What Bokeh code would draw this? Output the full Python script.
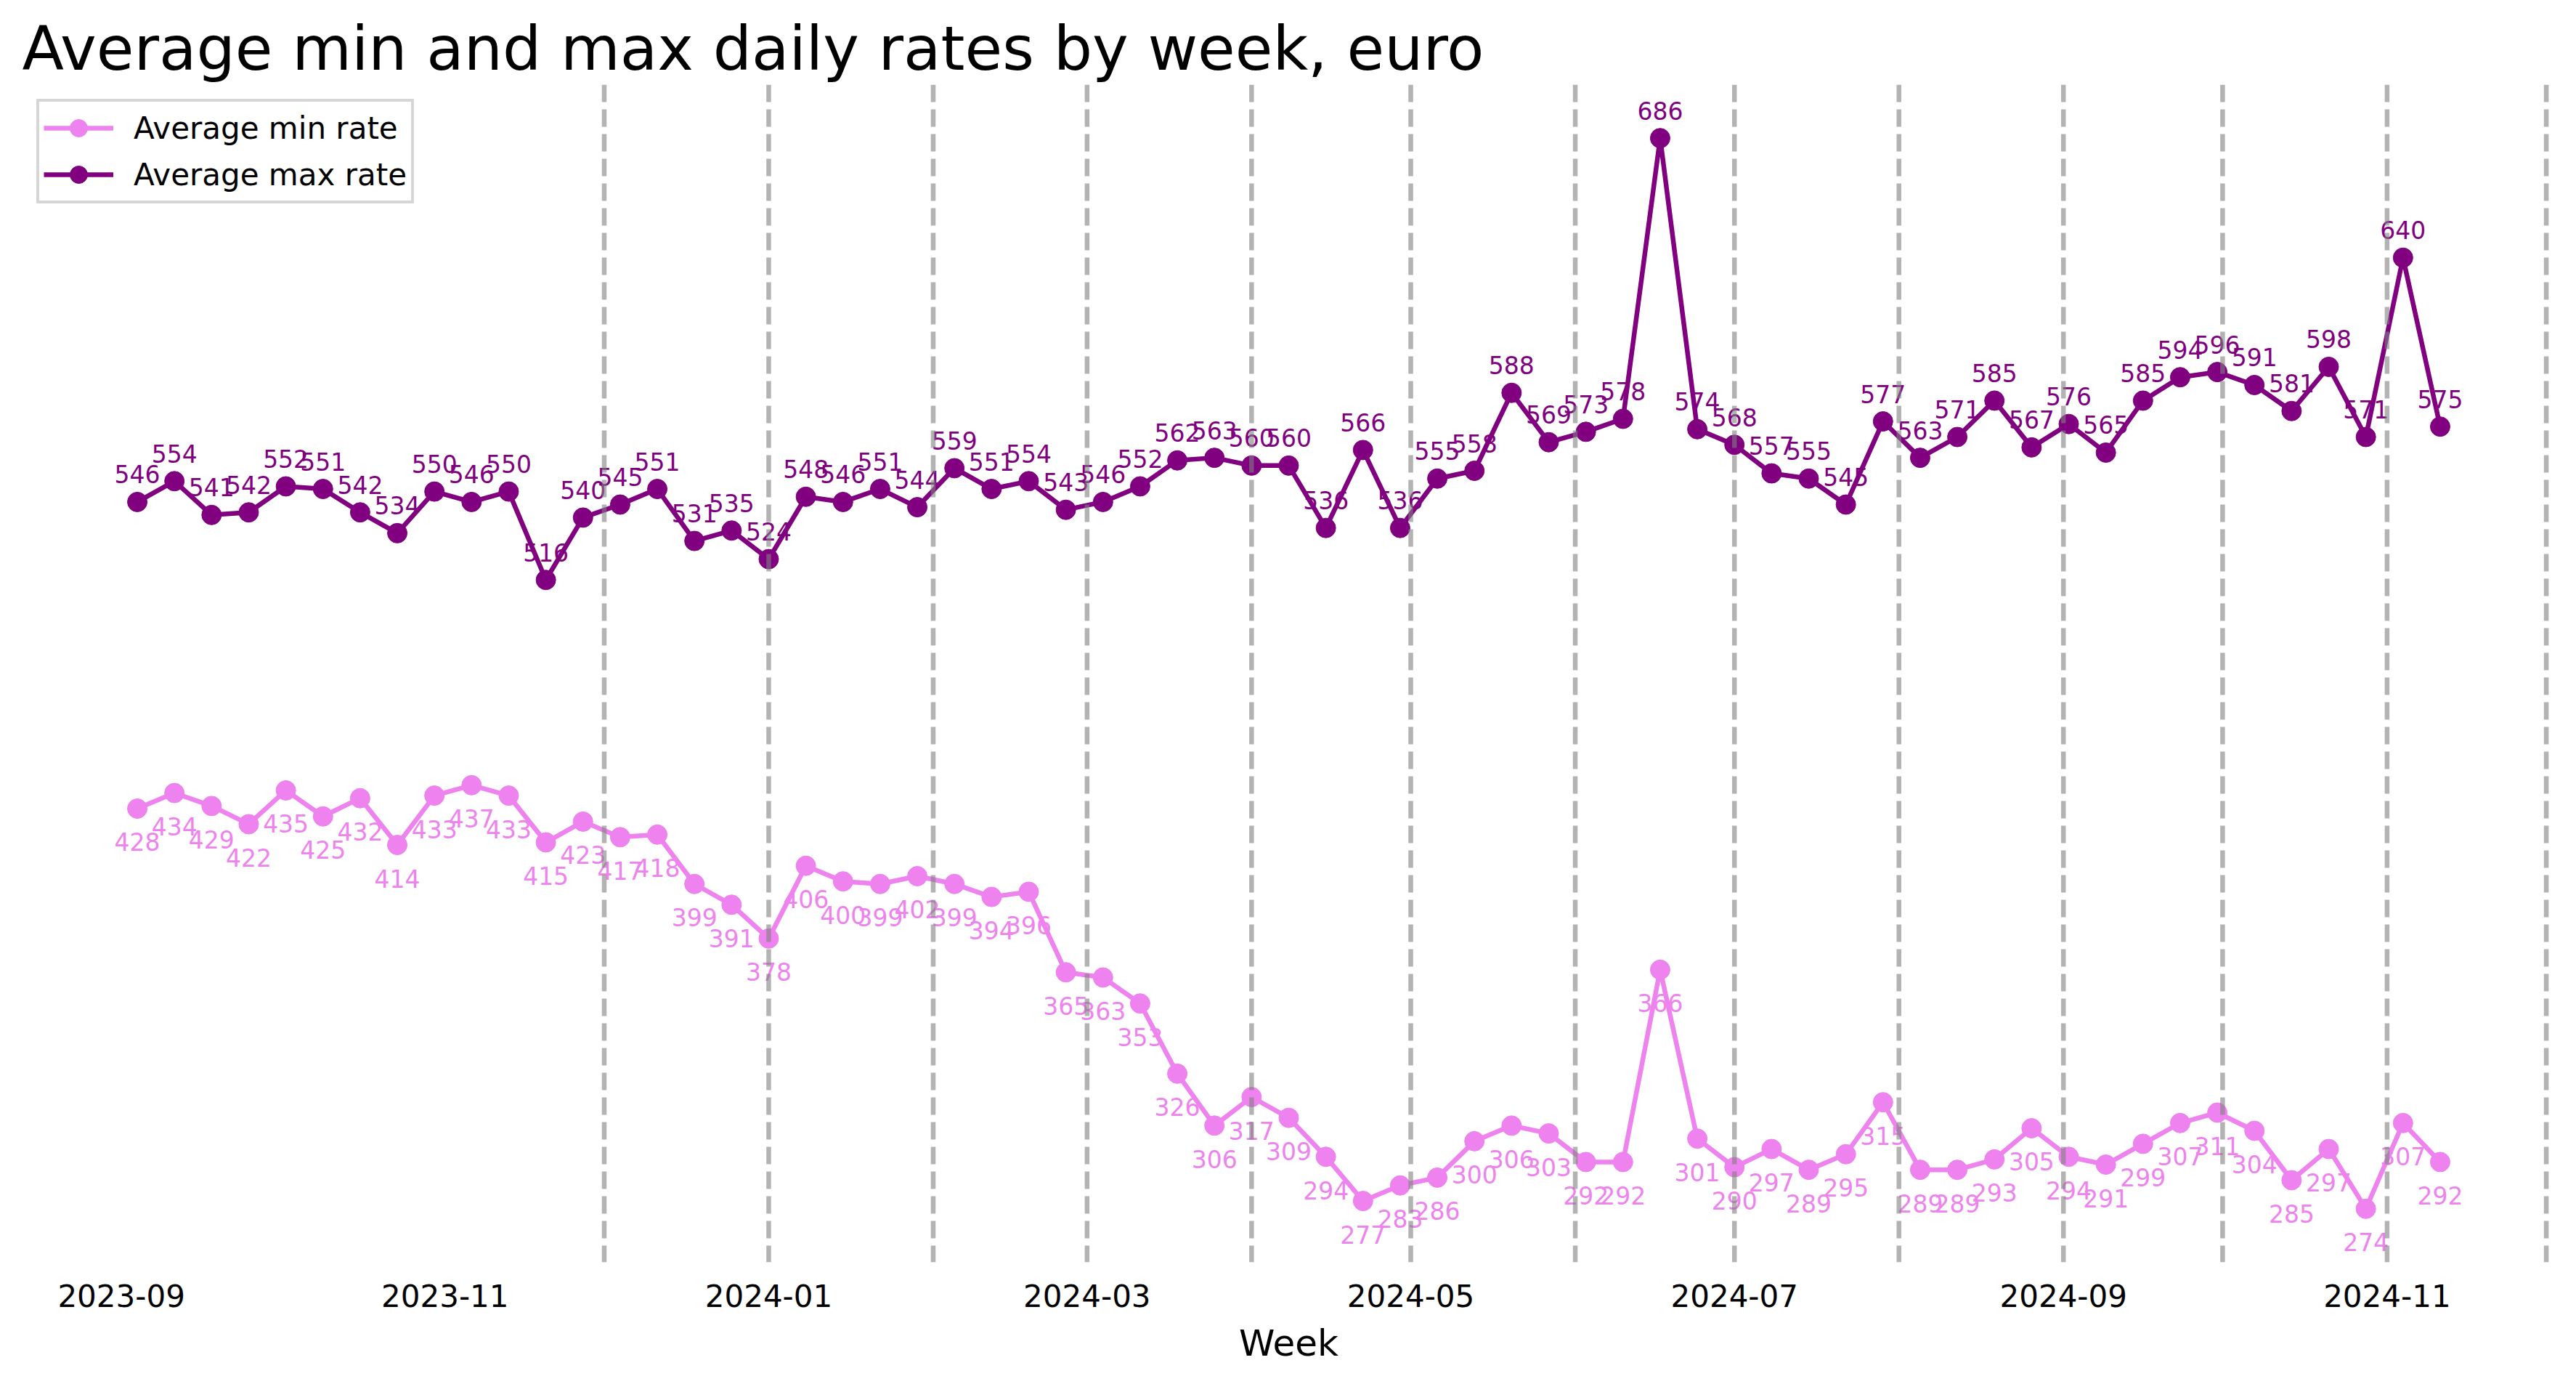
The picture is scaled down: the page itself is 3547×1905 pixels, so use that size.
import pandas as pd
from datetime import timedelta
from bokeh.plotting import figure
from bokeh.models import (Range1d, FixedTicker, Span, Legend, LegendItem,
                          ColumnDataSource)
from bokeh.core.properties import value
from bokeh.embed import file_html
from bokeh.resources import INLINE

# ---------------- data ----------------
weeks = [
    "2023-09-04", "2023-09-11", "2023-09-18", "2023-09-25", "2023-10-02", "2023-10-09",
    "2023-10-16", "2023-10-23", "2023-10-30", "2023-11-06", "2023-11-13", "2023-11-20",
    "2023-11-27", "2023-12-04", "2023-12-11", "2023-12-18", "2023-12-25", "2024-01-01",
    "2024-01-08", "2024-01-15", "2024-01-22", "2024-01-29", "2024-02-05", "2024-02-12",
    "2024-02-19", "2024-02-26", "2024-03-04", "2024-03-11", "2024-03-18", "2024-03-25",
    "2024-04-01", "2024-04-08", "2024-04-15", "2024-04-22", "2024-04-29", "2024-05-06",
    "2024-05-13", "2024-05-20", "2024-05-27", "2024-06-03", "2024-06-10", "2024-06-17",
    "2024-06-24", "2024-07-01", "2024-07-08", "2024-07-15", "2024-07-22", "2024-07-29",
    "2024-08-05", "2024-08-12", "2024-08-19", "2024-08-26", "2024-09-02", "2024-09-09",
    "2024-09-16", "2024-09-23", "2024-09-30", "2024-10-07", "2024-10-14", "2024-10-21",
    "2024-10-28", "2024-11-04", "2024-11-11",
]
min_rate = [428, 434, 429, 422, 435, 425, 432, 414, 433, 437, 433, 415, 423, 417, 418,
            399, 391, 378, 406, 400, 399, 402, 399, 394, 396, 365, 363, 353, 326, 306,
            317, 309, 294, 277, 283, 286, 300, 306, 303, 292, 292, 366, 301, 290, 297,
            289, 295, 315, 289, 289, 293, 305, 294, 291, 299, 307, 311, 304, 285, 297,
            274, 307, 292]
max_rate = [546, 554, 541, 542, 552, 551, 542, 534, 550, 546, 550, 516, 540, 545, 551,
            531, 535, 524, 548, 546, 551, 544, 559, 551, 554, 543, 546, 552, 562, 563,
            560, 560, 536, 566, 536, 555, 558, 588, 569, 573, 578, 686, 574, 568, 557,
            555, 545, 577, 563, 571, 585, 567, 576, 565, 585, 594, 596, 591, 581, 598,
            571, 640, 575]
tick_labels = ["2023-09", "2023-11", "2024-01", "2024-03", "2024-05", "2024-07",
               "2024-09", "2024-11"]
month_lines = ["2023-12", "2024-01", "2024-02", "2024-03", "2024-04", "2024-05",
               "2024-06", "2024-07", "2024-08", "2024-09", "2024-10", "2024-11",
               "2024-12"]

series_labels = ["Average min rate", "Average max rate"]
title_text = "Average min and max daily rates by week, euro"
MIN_COLOR = "violet"
MAX_COLOR = "purple"
FONT = "DejaVu Sans"

# ---------------- build ----------------
dates = pd.to_datetime(weeks)
src = ColumnDataSource(dict(
    week=dates,
    min_rate=min_rate,
    max_rate=max_rate,
    min_txt=[str(v) for v in min_rate],
    max_txt=[str(v) for v in max_rate],
))

pad = timedelta(days=21.7)
x0 = dates[0].to_pydatetime() - pad
x1 = dates[-1].to_pydatetime() + pad

p = figure(width=3531, height=1889, x_axis_type="datetime", y_axis_location=None,
           x_range=Range1d(x0, x1), y_range=Range1d(253.4, 706.6),
           output_backend="svg", toolbar_location=None,
           min_border_left=30, min_border_right=13,
           min_border_top=116, min_border_bottom=152)
p.outline_line_color = None
p.grid.visible = False
p.background_fill_color = "white"
p.border_fill_color = "white"

# title
p.title.text = title_text
p.title.text_font = FONT
p.title.text_font_size = "84px"
p.title.text_font_style = "normal"
p.title.text_color = "black"
p.title.align = "left"
p.title.standoff = 1
p.title.offset = 0

r_min_l = p.line("week", "min_rate", source=src, line_color=MIN_COLOR, line_width=6.5)
r_min_p = p.scatter("week", "min_rate", source=src, size=27, color=MIN_COLOR)
r_max_l = p.line("week", "max_rate", source=src, line_color=MAX_COLOR, line_width=6.5)
r_max_p = p.scatter("week", "max_rate", source=src, size=27, color=MAX_COLOR)

p.text("week", "max_rate", text="max_txt", source=src, text_color=MAX_COLOR,
       text_font=value(FONT), text_font_size="33px", text_align="center",
       text_baseline="alphabetic", y_offset=-38)
p.text("week", "min_rate", text="min_txt", source=src, text_color=MIN_COLOR,
       text_font=value(FONT), text_font_size="33px", text_align="center",
       text_baseline="alphabetic", y_offset=46)

for m in month_lines:
    p.add_layout(Span(location=pd.Timestamp(m + "-01").to_pydatetime(),
                      dimension="height", line_color="gray", line_alpha=0.6,
                      line_width=6.5, line_dash="24 10"))

# x axis
tick_ms = [pd.Timestamp(t + "-01").value / 1e6 for t in tick_labels]
xa = p.xaxis[0]
xa.ticker = FixedTicker(ticks=tick_ms)
xa.major_label_overrides = {ms: lab for ms, lab in zip(tick_ms, tick_labels)}
xa.axis_line_color = None
xa.major_tick_line_color = None
xa.minor_tick_line_color = None
xa.major_tick_out = 0
xa.major_tick_in = 0
xa.major_label_standoff = 30
xa.major_label_text_font = FONT
xa.major_label_text_font_size = "42px"
xa.major_label_text_color = "black"
xa.axis_label = "Week"
xa.axis_label_text_font = FONT
xa.axis_label_text_font_size = "50px"
xa.axis_label_text_font_style = "normal"
xa.axis_label_text_color = "black"
xa.axis_label_standoff = 18

legend = Legend(items=[LegendItem(label=series_labels[0], renderers=[r_min_l, r_min_p]),
                       LegendItem(label=series_labels[1], renderers=[r_max_l, r_max_p])],
                location="top_left", margin=20, padding=6, spacing=4,
                glyph_width=96, glyph_height=60, label_height=44, label_standoff=28,
                label_text_font=FONT, label_text_font_size="42px", label_text_color="black",
                border_line_color="#cccccc", border_line_width=4, border_line_alpha=0.8,
                background_fill_alpha=0.8)
p.add_layout(legend)

open("out.html", "w").write(file_html(p, INLINE))
